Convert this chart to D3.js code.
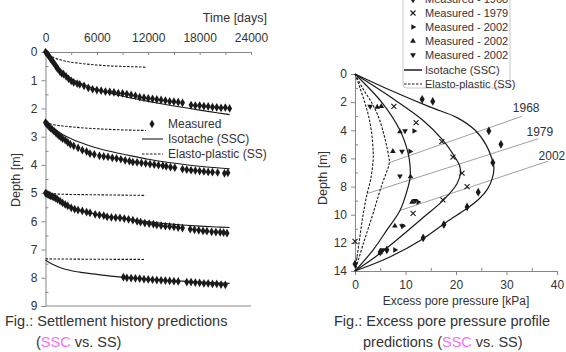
<!DOCTYPE html>
<html>
<head>
<meta charset="utf-8">
<script src="https://cdn.jsdelivr.net/npm/d3@7"></script>
<style>
  body { margin: 0; background: #fff; }
  svg { font-family: Arial, 'Liberation Sans', sans-serif; }
</style>
</head>
<body>
<div id="chart"></div>
<script>
// ---- left chart: settlement history (time in days, depth in m) ----
const timeTicks = [0, 6000, 12000, 18000, 24000];
const depthTicksLeft = [0, 1, 2, 3, 4, 5, 6, 7, 8, 9];

const measured1 = [[0,0],[150,0.05],[300,0.1],[450,0.17],[600,0.24],[750,0.3],[900,0.36],[1050,0.42],[1200,0.5],[1350,0.56],[1500,0.62],[1700,0.7],[1900,0.76],[2100,0.78],[2400,0.86],[2700,0.95],[3000,1.02],[3300,1.08],[3700,1.12],[4000,1.15],[4500,1.2],[5000,1.27],[5500,1.32],[6000,1.35],[6500,1.37],[7000,1.4],[7500,1.41],[8000,1.43],[8500,1.46],[9000,1.47],[9500,1.49],[10000,1.52],[10500,1.55],[11000,1.6],[11500,1.62],[12000,1.64],[12500,1.66],[13000,1.68],[13500,1.7],[14000,1.72],[14500,1.75],[15000,1.76],[15500,1.78],[16000,1.8],[17000,1.88],[17500,1.9],[18000,1.9],[18500,1.92],[19000,1.93],[19500,1.95],[20000,1.96],[20500,1.98],[21000,1.97],[21500,2.0]];
const measured2 = [[0,2.5],[150,2.55],[300,2.6],[450,2.65],[600,2.7],[800,2.75],[1000,2.8],[1200,2.86],[1400,2.92],[1600,2.97],[1800,3.02],[2000,3.07],[2300,3.12],[2600,3.2],[2900,3.27],[3300,3.33],[3800,3.4],[4300,3.48],[4800,3.53],[5200,3.6],[5700,3.63],[6300,3.68],[6800,3.7],[7300,3.72],[7800,3.75],[8300,3.77],[8800,3.8],[9300,3.84],[9800,3.87],[10200,3.9],[10700,3.91],[11200,3.93],[11700,3.95],[12200,3.97],[12700,3.99],[13200,4.01],[13700,4.03],[14100,4.05],[14600,4.08],[15100,4.1],[16000,4.15],[16500,4.17],[17000,4.19],[17500,4.2],[18000,4.22],[18500,4.23],[19000,4.25],[19500,4.26],[20100,4.27],[20900,4.3],[21300,4.28]];
const measured3 = [[0,5.0],[150,5.02],[300,5.05],[450,5.07],[600,5.1],[800,5.12],[1000,5.15],[1200,5.18],[1400,5.22],[1700,5.28],[2000,5.35],[2300,5.4],[2600,5.45],[3000,5.52],[3400,5.57],[3800,5.6],[4300,5.63],[4800,5.67],[5200,5.7],[5800,5.75],[6300,5.78],[6800,5.8],[7200,5.84],[7700,5.86],[8200,5.87],[8700,5.88],[9200,5.9],[9700,5.93],[10200,5.96],[10700,6.0],[11100,6.03],[11600,6.06],[12100,6.08],[12600,6.1],[13000,6.13],[13500,6.15],[14000,6.17],[14500,6.18],[15000,6.2],[15500,6.22],[16000,6.24],[16900,6.28],[17400,6.3],[17900,6.32],[18400,6.34],[18850,6.35],[19400,6.37],[19900,6.38],[20400,6.39],[20800,6.4],[21200,6.42]];
const measured4 = [[9100,7.98],[9500,8.0],[10000,8.01],[10500,8.02],[11000,8.03],[11500,8.05],[12000,8.06],[12500,8.07],[13000,8.08],[13500,8.09],[14000,8.1],[14500,8.11],[15000,8.12],[15500,8.13],[16500,8.15],[17000,8.15],[17500,8.17],[18000,8.18],[18500,8.2],[19000,8.2],[19500,8.22],[20000,8.22],[20500,8.24],[21000,8.25]];

const isotache1 = [[0,0],[500,0.2],[1000,0.4],[2000,0.72],[3000,0.95],[4000,1.1],[6000,1.33],[8000,1.5],[10000,1.63],[12000,1.75],[14000,1.86],[16000,1.96],[18000,2.06],[20000,2.15],[21500,2.22]];
const isotache2 = [[0,2.5],[1000,2.72],[2000,2.92],[3000,3.07],[4000,3.2],[6000,3.4],[8000,3.55],[10000,3.68],[12000,3.8],[14000,3.9],[16000,3.98],[18000,4.05],[20000,4.1],[21500,4.14]];
const isotache3 = [[0,5.0],[1000,5.2],[2000,5.38],[3000,5.5],[4000,5.6],[6000,5.75],[8000,5.85],[10000,5.94],[12000,6.02],[14000,6.08],[16000,6.13],[18000,6.17],[20000,6.2],[21500,6.22]];
const isotache4 = [[0,7.38],[1000,7.55],[2000,7.67],[4000,7.8],[6000,7.88],[8000,7.95],[10000,8.0],[12000,8.05],[14000,8.09],[16000,8.12],[18000,8.15],[20000,8.18],[21500,8.2]];

const elasto1 = [[0,0],[1000,0.2],[2000,0.3],[4000,0.4],[6000,0.46],[8000,0.5],[10000,0.52],[11700,0.54]];
const elasto2 = [[0,2.5],[1000,2.58],[2000,2.62],[4000,2.68],[6000,2.72],[8000,2.75],[11700,2.78]];
const elasto3 = [[0,5.0],[2000,5.04],[6000,5.06],[11700,5.08]];
const elasto4 = [[0,7.33],[4000,7.34],[11500,7.35]];

// ---- right chart: excess pore pressure (kPa) vs depth (m) ----
const pressureTicks = [0, 10, 20, 30, 40];
const depthTicksRight = [0, 2, 4, 6, 8, 10, 12, 14];

const isotache1968 = [[0,0],[6.9,1.14],[14.8,2.34],[20.2,3.1],[23.8,4.0],[25.9,5.0],[27.0,5.9],[27.5,6.6],[27.2,7.4],[26.2,8.2],[24.5,8.9],[22.0,9.6],[18.2,10.5],[13.5,11.7],[6.9,13.0],[0,14]];
const isotache1979 = [[0,0],[6.9,1.6],[13.5,3.3],[17.4,4.7],[19.6,5.8],[20.7,6.5],[20.9,7.0],[20.2,7.8],[17.4,9.0],[13.5,10.2],[8.9,11.6],[4.4,12.9],[0,14]];
const isotache2002 = [[0,0],[5.5,2.1],[8.9,4.0],[10.5,5.6],[10.9,6.5],[10.9,7.4],[10.3,8.3],[8.9,9.7],[6.3,11.1],[3.6,12.5],[0,14]];
const elastoOuter = [[0,0],[1.5,1.0],[3.4,2.1],[4.6,3.0],[5.5,4.0],[6.2,5.0],[6.7,5.9],[6.8,6.3],[5.2,8.0],[3.5,10.0],[1.7,12.0],[0,14]];
const elastoInner = [[0,0],[1.0,1.0],[2.0,2.1],[2.7,3.0],[3.3,4.2],[3.6,5.5],[3.6,6.1],[3.1,7.5],[2.4,8.5],[1.6,10.0],[0.8,12.0],[0,14]];

const meas1968 = [[13.3,1.8],[15.4,1.95],[26.5,4.05],[28.9,5.0],[27.3,6.3],[24.4,8.4],[22.2,9.45],[17.6,10.7],[13.5,11.65],[6.3,12.5],[5.0,12.65],[0,13.5]];
const meas1979 = [[7.7,2.3],[12.1,3.45],[17.2,4.8],[19.4,5.9],[21.2,7.05],[22.2,8.0],[17.4,8.95],[11.5,9.9],[0,11.9]];
const meas2002a = [[11.7,4.05],[10.9,5.5],[12.5,9.1],[9.5,10.8],[7.9,12.5]];
const meas2002b = [[4.4,2.35],[5.2,2.3],[8.9,4.1],[7.5,5.5],[11.0,7.3],[11.3,9.1],[7.9,10.8],[5.0,12.7]];
const meas2002c = [[3.0,2.3],[9.9,4.05],[9.3,5.5],[8.9,7.25],[11.9,9.0],[9.3,10.8],[5.5,12.5]];

const yearLines = [
  { year: '1968', from: [6.8, 6.3], to: [33.1, 3.0], label: [33.9, 2.4] },
  { year: '1979', from: [2.4, 8.5], to: [36.3, 4.6], label: [36.6, 4.1] },
  { year: '2002', from: [8.9, 9.7], to: [38.2, 6.2], label: [39.0, 5.8] },
];

const W = 566, H = 352;
const ink = '#1a1a1a', textCol = '#333', axisCol = '#888';

const svg = d3.select('#chart').append('svg').attr('width', W).attr('height', H);

// ================= left chart =================
const xL = d3.scaleLinear().domain([0, 24000]).range([45.5, 251]);
const yL = d3.scaleLinear().domain([0, 9]).range([52, 306]);
const left = svg.append('g');

function styleAxis(g) {
  g.select('.domain').attr('stroke', axisCol);
  g.selectAll('.tick line').attr('stroke', axisCol);
  g.selectAll('.tick text').attr('fill', textCol).style('font-size', '12px').style('font-family', 'Arial, Liberation Sans, sans-serif');
}

left.append('g')
  .attr('transform', `translate(0,${yL(0)})`)
  .call(d3.axisTop(xL).tickValues(d3.range(0, 24001, 3000)).tickSize(-3).tickPadding(10)
    .tickFormat(d => (d % 6000 === 0 ? d : '')))
  .call(styleAxis);

left.append('g')
  .attr('transform', `translate(${xL(0)},0)`)
  .call(d3.axisLeft(yL).tickValues(depthTicksLeft).tickSize(4).tickPadding(4))
  .call(styleAxis);
left.append('g')
  .attr('transform', `translate(${xL(0)},0)`)
  .call(d3.axisLeft(yL).tickValues(d3.range(0.5, 9, 1)).tickSize(-3).tickFormat(''))
  .call(g => g.select('.domain').remove())
  .call(styleAxis);

left.append('line')
  .attr('x1', xL(0)).attr('x2', xL(24000)).attr('y1', yL(9)).attr('y2', yL(9))
  .attr('stroke', axisCol);

left.append('text').attr('x', 267).attr('y', 22).attr('text-anchor', 'end')
  .attr('fill', textCol).style('font-size', '12.5px').text('Time [days]');
left.append('text').attr('transform', `translate(20,180) rotate(-90)`).attr('text-anchor', 'middle')
  .attr('fill', textCol).style('font-size', '12.5px').text('Depth [m]');

const lineL = d3.line().x(d => xL(d[0])).y(d => yL(d[1])).curve(d3.curveMonotoneX);
[elasto1, elasto2, elasto3, elasto4].forEach(s => {
  left.append('path').attr('d', lineL(s)).attr('fill', 'none')
    .attr('stroke', ink).attr('stroke-width', 1.1).attr('stroke-dasharray', '2.5,1.5');
});
[isotache1, isotache2, isotache3, isotache4].forEach(s => {
  left.append('path').attr('d', lineL(s)).attr('fill', 'none')
    .attr('stroke', ink).attr('stroke-width', 1.1);
});

const diamond = d3.symbol().type(d3.symbolDiamond).size(22);
[measured1, measured2, measured3, measured4].forEach(s => {
  left.append('g').selectAll('path').data(s).join('path')
    .attr('d', diamond)
    .attr('transform', d => `translate(${xL(d[0])},${yL(d[1])})`)
    .attr('fill', ink);
});

// left legend
const legL = left.append('g').style('font-size', '12px').attr('fill', textCol);
legL.append('path').attr('d', diamond).attr('transform', 'translate(152,124)').attr('fill', ink);
legL.append('text').attr('x', 168).attr('y', 128).text('Measured');
legL.append('line').attr('x1', 142).attr('x2', 163).attr('y1', 139).attr('y2', 139).attr('stroke', ink).attr('stroke-width', 1.1);
legL.append('text').attr('x', 168).attr('y', 143).text('Isotache (SSC)');
legL.append('line').attr('x1', 142).attr('x2', 163).attr('y1', 154).attr('y2', 154).attr('stroke', ink).attr('stroke-width', 1.1).attr('stroke-dasharray', '2.5,1.5');
legL.append('text').attr('x', 168).attr('y', 158).text('Elasto-plastic (SS)');

// ================= right chart =================
const xR = d3.scaleLinear().domain([0, 40]).range([355, 557]);
const yR = d3.scaleLinear().domain([0, 14]).range([74, 271]);
const right = svg.append('g');

right.append('g')
  .attr('transform', `translate(0,${yR(14)})`)
  .call(d3.axisBottom(xR).tickValues(pressureTicks).tickSize(4).tickPadding(5))
  .call(styleAxis);
right.append('g')
  .attr('transform', `translate(0,${yR(14)})`)
  .call(d3.axisBottom(xR).tickValues([5, 15, 25, 35]).tickSize(-3).tickFormat(''))
  .call(g => g.select('.domain').remove())
  .call(styleAxis);
right.append('g')
  .attr('transform', `translate(${xR(0)},0)`)
  .call(d3.axisLeft(yR).tickValues(depthTicksRight).tickSize(4).tickPadding(4))
  .call(styleAxis);
right.append('g')
  .attr('transform', `translate(${xR(0)},0)`)
  .call(d3.axisLeft(yR).tickValues(d3.range(1, 14, 2)).tickSize(-3).tickFormat(''))
  .call(g => g.select('.domain').remove())
  .call(styleAxis);

right.append('text').attr('x', (xR(0) + xR(40)) / 2).attr('y', 305).attr('text-anchor', 'middle')
  .attr('fill', textCol).style('font-size', '12px').text('Excess pore pressure [kPa]');
right.append('text').attr('transform', `translate(327,178) rotate(-90)`).attr('text-anchor', 'middle')
  .attr('fill', textCol).style('font-size', '12.5px').text('Depth [m]');

// year reference lines
yearLines.forEach(l => {
  right.append('line')
    .attr('x1', xR(l.from[0])).attr('y1', yR(l.from[1]))
    .attr('x2', xR(l.to[0])).attr('y2', yR(l.to[1]))
    .attr('stroke', '#888').attr('stroke-width', 0.8);
  right.append('text')
    .attr('x', xR(l.label[0])).attr('y', yR(l.label[1])).attr('dy', '0.35em')
    .attr('text-anchor', 'middle').attr('fill', textCol).style('font-size', '12px')
    .text(l.year);
});

const lineR = d3.line().x(d => xR(d[0])).y(d => yR(d[1])).curve(d3.curveCatmullRom.alpha(0.5));
[elastoOuter, elastoInner].forEach(s => {
  right.append('path').attr('d', lineR(s)).attr('fill', 'none')
    .attr('stroke', ink).attr('stroke-width', 1.1).attr('stroke-dasharray', '2.5,1.5');
});
[isotache1968, isotache1979, isotache2002].forEach(s => {
  right.append('path').attr('d', lineR(s)).attr('fill', 'none')
    .attr('stroke', ink).attr('stroke-width', 1.2);
});

const crossPath = 'M-2.5,-2.5L2.5,2.5M-2.5,2.5L2.5,-2.5';
const triUp = d3.symbol().type(d3.symbolTriangle).size(14)();
const markerDefs = [
  { data: meas1968, d: diamond(), fill: ink, rot: 0, label: 'Measured - 1968' },
  { data: meas1979, d: crossPath, fill: 'none', rot: 0, label: 'Measured - 1979' },
  { data: meas2002a, d: triUp, fill: ink, rot: 90, label: 'Measured - 2002' },
  { data: meas2002b, d: triUp, fill: ink, rot: 0, label: 'Measured - 2002' },
  { data: meas2002c, d: triUp, fill: ink, rot: 180, label: 'Measured - 2002' },
];
markerDefs.forEach(m => {
  right.append('g').selectAll('path').data(m.data).join('path')
    .attr('d', m.d)
    .attr('transform', d => `translate(${xR(d[0])},${yR(d[1])}) rotate(${m.rot})`)
    .attr('fill', m.fill).attr('stroke', m.fill === 'none' ? ink : 'none').attr('stroke-width', 1.1);
});

// right legend
const legR = right.append('g').style('font-size', '11px').attr('fill', textCol);
legR.append('rect').attr('x', 403).attr('y', -8).attr('width', 107).attr('height', 96).attr('rx', 4)
  .attr('fill', '#fff').attr('stroke', '#c8c8c8');
const rowY = [-1, 13, 27, 41, 55, 70, 84];
markerDefs.forEach((m, i) => {
  legR.append('path').attr('d', m.d)
    .attr('transform', `translate(413,${rowY[i]}) rotate(${m.rot})`)
    .attr('fill', m.fill).attr('stroke', m.fill === 'none' ? ink : 'none').attr('stroke-width', 1.1);
  legR.append('text').attr('x', 425).attr('y', rowY[i]).attr('dy', '0.35em').text(m.label);
});
legR.append('line').attr('x1', 404).attr('x2', 422).attr('y1', rowY[5]).attr('y2', rowY[5]).attr('stroke', ink).attr('stroke-width', 1.5);
legR.append('text').attr('x', 425).attr('y', rowY[5]).attr('dy', '0.35em').text('Isotache (SSC)');
legR.append('line').attr('x1', 404).attr('x2', 422).attr('y1', rowY[6]).attr('y2', rowY[6]).attr('stroke', ink).attr('stroke-width', 1.1).attr('stroke-dasharray', '2.5,1.5');
legR.append('text').attr('x', 425).attr('y', rowY[6]).attr('dy', '0.35em').text('Elasto-plastic (SS)');

// ================= captions =================
const pink = '#f272f0';
function caption(x, y, parts) {
  const t = svg.append('text').attr('x', x).attr('y', y).attr('fill', textCol).style('font-size', '14.5px');
  parts.forEach(p => t.append('tspan').attr('fill', p[1] || textCol).text(p[0]));
}
caption(5, 326, [['Fig.: Settlement history predictions']]);
caption(36, 347, [['('], ['SSC', pink], [' vs. SS)']]);
caption(334, 326, [['Fig.: Excess pore pressure profile']]);
caption(363, 347, [['predictions ('], ['SSC', pink], [' vs. SS)']]);
</script>
</body>
</html>
